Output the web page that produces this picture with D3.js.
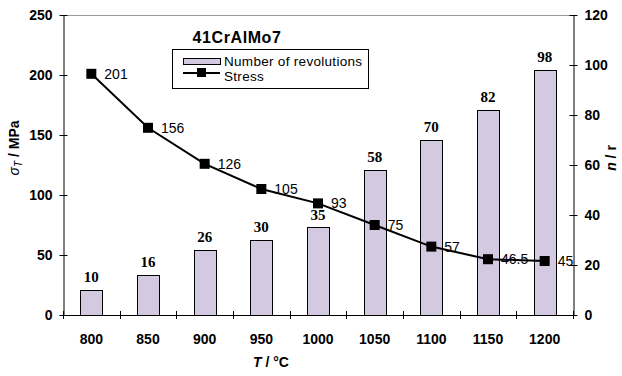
<!DOCTYPE html>
<head>
  <meta http-equiv="Content-Type" content="text/html; charset=utf-8">
  <style>
    body { margin: 0; background: #fff; }
    text { font-family: "Liberation Sans", Arial, sans-serif; }
  </style>
</head>
<body></body>
<script src="https://d3js.org/d3.v7.min.js"></script>
<script>

var width = 622,
    height = 376;

// data
var temps = ["800", "850", "900", "950", "1000", "1050", "1100", "1150", "1200"];
var revolutions = [10, 16, 26, 30, 35, 58, 70, 82, 98];
var stress = [201, 156, 126, 105, 93, 75, 57, 46.5, 45];
var stressTicks = [0, 50, 100, 150, 200, 250];
var revTicks = [0, 20, 40, 60, 80, 100, 120];

// plot box (note: "top" is reserved on window, so use other names)
var plotL = 63, plotR = 573, plotT = 15, plotB = 315;

var xs = d3.scaleBand()
    .domain(temps)
    .range([plotL, plotR]);
var ysL = d3.scaleLinear()
    .domain([0, 250])
    .range([plotB, plotT]);
var ysR = d3.scaleLinear()
    .domain([0, 120])
    .range([plotB, plotT]);

var svg = d3.select("body").append("svg")
    .attr("width", width)
    .attr("height", height);

// top frame line
svg.append("line")
    .attr("x1", plotL).attr("x2", plotR)
    .attr("y1", plotT + 0.5).attr("y2", plotT + 0.5)
    .attr("stroke", "#999");

// bars
var barW = 22;
svg.selectAll(".bar")
    .data(revolutions)
    .enter()
    .append("rect")
    .attr("class", "bar")
    .attr("x", function(d, i){ return Math.round(xs(temps[i]) + xs.bandwidth()/2 - barW/2) + 0.5; })
    .attr("y", function(d){ return Math.round(ysR(d)) + 0.5; })
    .attr("width", barW)
    .attr("height", function(d){ return plotB - Math.round(ysR(d)); })
    .attr("fill", "#d3c9e1")
    .attr("stroke", "#000")
    .attr("stroke-width", 1);

svg.selectAll(".barlabel")
    .data(revolutions)
    .enter()
    .append("text")
    .attr("class", "barlabel")
    .attr("x", function(d, i){ return xs(temps[i]) + xs.bandwidth()/2; })
    .attr("y", function(d){ return ysR(d) - 8; })
    .attr("text-anchor", "middle")
    .style("font-family", "'Liberation Serif', 'Times New Roman', serif")
    .style("font-weight", "bold")
    .style("font-size", "15px")
    .text(function(d){ return d; });

// axes
var xAxis = svg.append("g");
xAxis.append("line")
    .attr("x1", plotL).attr("x2", plotR)
    .attr("y1", plotB + 0.5).attr("y2", plotB + 0.5)
    .attr("stroke", "#000");
xAxis.selectAll(".xtick")
    .data(d3.range(temps.length + 1))
    .enter()
    .append("line")
    .attr("x1", function(i){ return Math.round(plotL + i * xs.step()) + 0.5; })
    .attr("x2", function(i){ return Math.round(plotL + i * xs.step()) + 0.5; })
    .attr("y1", plotB - 4).attr("y2", plotB + 4)
    .attr("stroke", "#000");
xAxis.selectAll(".xlabel")
    .data(temps)
    .enter()
    .append("text")
    .attr("x", function(d){ return xs(d) + xs.bandwidth()/2; })
    .attr("y", 344)
    .attr("text-anchor", "middle")
    .style("font-weight", "bold")
    .style("font-size", "14px")
    .text(function(d){ return d; });

var yAxisL = svg.append("g")
    .attr("transform", "translate(" + (plotL + 0.5) + ",0)")
    .call(d3.axisLeft(ysL).tickValues(stressTicks).tickSizeInner(4).tickSizeOuter(0).tickPadding(7));
yAxisL.selectAll(".tick line").attr("x2", -4).attr("x1", 4);
yAxisL.selectAll("text")
    .style("font-family", "'Liberation Sans', Arial, sans-serif")
    .style("font-weight", "bold")
    .style("font-size", "14px");

var yAxisR = svg.append("g")
    .attr("transform", "translate(" + (plotR + 0.5) + ",0)")
    .call(d3.axisRight(ysR).tickValues(revTicks).tickSizeInner(4).tickSizeOuter(0).tickPadding(7));
yAxisR.selectAll(".tick line").attr("x1", -4).attr("x2", 4);
yAxisR.selectAll("text")
    .style("font-family", "'Liberation Sans', Arial, sans-serif")
    .style("font-weight", "bold")
    .style("font-size", "14px");
svg.selectAll(".domain").attr("stroke", "#000");

// stress line
var line = d3.line()
    .x(function(d, i){ return xs(temps[i]) + xs.bandwidth()/2; })
    .y(function(d){ return ysL(d); });
svg.append("path")
    .datum(stress)
    .attr("d", line)
    .attr("fill", "none")
    .attr("stroke", "#000")
    .attr("stroke-width", 2);
svg.selectAll(".marker")
    .data(stress)
    .enter()
    .append("rect")
    .attr("x", function(d, i){ return xs(temps[i]) + xs.bandwidth()/2 - 5; })
    .attr("y", function(d){ return ysL(d) - 5; })
    .attr("width", 10)
    .attr("height", 10)
    .attr("fill", "#000");
svg.selectAll(".stresslabel")
    .data(stress)
    .enter()
    .append("text")
    .attr("x", function(d, i){ return xs(temps[i]) + xs.bandwidth()/2 + 13; })
    .attr("y", function(d){ return ysL(d) + 5; })
    .style("font-size", "14px")
    .text(function(d){ return d; });

// legend
svg.append("text")
    .attr("x", 237).attr("y", 43)
    .attr("text-anchor", "middle")
    .style("font-weight", "bold")
    .style("font-size", "16px")
    .style("letter-spacing", "0.6px")
    .text("41CrAlMo7");
svg.append("rect")
    .attr("x", 172.5).attr("y", 49.5)
    .attr("width", 196).attr("height", 39)
    .attr("fill", "#fff")
    .attr("stroke", "#000");
svg.append("rect")
    .attr("x", 183.5).attr("y", 58.5)
    .attr("width", 37).attr("height", 6)
    .attr("fill", "#d3c9e1")
    .attr("stroke", "#000");
svg.append("line")
    .attr("x1", 183).attr("x2", 220)
    .attr("y1", 73).attr("y2", 73)
    .attr("stroke", "#000").attr("stroke-width", 2);
svg.append("rect")
    .attr("x", 197).attr("y", 68)
    .attr("width", 9).attr("height", 9)
    .attr("fill", "#000");
svg.append("text")
    .attr("x", 224).attr("y", 66)
    .style("font-size", "13.5px")
    .style("letter-spacing", "0.3px")
    .text("Number of revolutions");
svg.append("text")
    .attr("x", 224).attr("y", 81)
    .style("font-size", "13.5px")
    .style("letter-spacing", "0.3px")
    .text("Stress");

// axis titles
var tl = svg.append("text")
    .attr("transform", "translate(19,148) rotate(-90)")
    .attr("text-anchor", "middle")
    .style("font-weight", "bold")
    .style("font-size", "14px");
tl.append("tspan").style("font-style", "italic").style("font-weight", "normal").text("σ");
tl.append("tspan").style("font-style", "italic").style("font-weight", "normal").style("font-size", "10px").attr("dy", 3).text("T");
tl.append("tspan").attr("dy", -3).text(" / MPa");

var tr = svg.append("text")
    .attr("transform", "translate(616,158) rotate(-90)")
    .attr("text-anchor", "middle")
    .style("font-weight", "bold")
    .style("font-size", "14px");
tr.append("tspan").style("font-style", "italic").text("n");
tr.append("tspan").text(" / r");

var tb = svg.append("text")
    .attr("x", 271).attr("y", 367)
    .attr("text-anchor", "middle")
    .style("font-weight", "bold")
    .style("font-size", "14px");
tb.append("tspan").style("font-style", "italic").text("T");
tb.append("tspan").text(" / °C");

</script>
</html>
